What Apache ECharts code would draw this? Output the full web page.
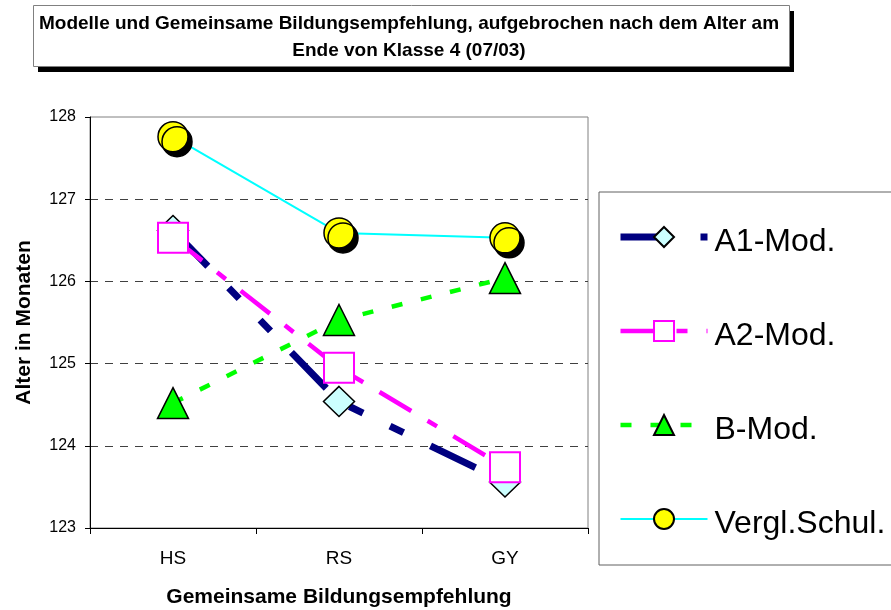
<!DOCTYPE html>
<html>
<head>
<meta charset="utf-8">
<script src="https://cdn.jsdelivr.net/npm/echarts@6/dist/echarts.min.js"></script>
<style>
  html, body { margin: 0; padding: 0; background: #fff; }
  #chart { width: 891px; height: 610px; }
</style>
</head>
<body>
<div id="chart"></div>
<script>
// Kategorien (Gemeinsame Bildungsempfehlung)
const categories = ['HS', 'RS', 'GY']
// Alter in Monaten je Modell
const a1Mod = [126.62, 124.54, 123.56]
const a2Mod = [126.53, 124.95, 123.74]
const bMod = [124.52, 125.53, 126.04]
const verglSchul = [127.76, 126.59, 126.53]
const seriesNames = ['A1-Mod.', 'A2-Mod.', 'B-Mod.', 'Vergl.Schul.']
// Linienbreiten fuer die Legende (wie in den Serien)
const legendWidths = [7, 4.5, 4.5, 2]

const font = 'Liberation Sans, Arial, sans-serif'
const chart = echarts.init(document.getElementById('chart'))

const option = {
  backgroundColor: '#fff',
  animation: false,
  // Titel-Kasten mit Schatten
  graphic: [
    {
      type: 'rect',
      shape: { x: 38, y: 11, width: 756, height: 61 },
      style: { fill: '#000' },
      z: 0
    },
    {
      type: 'rect',
      shape: { x: 33.5, y: 5.5, width: 756, height: 61 },
      style: { fill: '#fff', stroke: '#808080', lineWidth: 1 },
      z: 1
    }
  ],
  title: {
    text: 'Modelle und Gemeinsame Bildungsempfehlung, aufgebrochen nach dem Alter am\nEnde von Klasse 4 (07/03)',
    left: 409,
    textAlign: 'center',
    top: 10,
    padding: 0,
    z: 5,
    textStyle: {
      fontFamily: font,
      fontWeight: 'bold',
      fontSize: 19,
      lineHeight: 27,
      color: '#000'
    }
  },
  grid: {
    left: 90,
    right: 303,
    top: 117,
    bottom: 82,
    outerBoundsMode: 'none',
    show: true,
    borderColor: '#808080',
    borderWidth: 1
  },
  legend: {
    orient: 'vertical',
    left: 599,
    top: 192,
    padding: [24, 40, 25, 18],
    itemWidth: 87,
    itemHeight: 25,
    itemGap: 52,
    borderColor: '#606060',
    borderWidth: 1,
    backgroundColor: '#fff',
    data: seriesNames.map((name, i) => ({
      name: name,
      lineStyle: { width: legendWidths[i] }
    })),
    formatter: '{t|{name}}',
    textStyle: {
      fontFamily: font,
      fontSize: 32,
      color: '#000',
      rich: {
        t: {
          fontFamily: font,
          fontSize: 32,
          lineHeight: 32,
          color: '#000',
          padding: [10, 0, 0, 2]
        }
      }
    }
  },
  xAxis: {
    type: 'category',
    data: categories,
    boundaryGap: true,
    name: 'Gemeinsame Bildungsempfehlung',
    nameLocation: 'middle',
    nameGap: 59,
    nameTextStyle: {
      fontFamily: font,
      fontWeight: 'bold',
      fontSize: 21,
      color: '#000'
    },
    axisLine: { lineStyle: { color: '#000', width: 1 } },
    axisTick: { show: true, length: 6, inside: false, lineStyle: { color: '#000' } },
    axisLabel: {
      fontFamily: font,
      fontSize: 19,
      color: '#000',
      margin: 21
    },
    splitLine: { show: false }
  },
  yAxis: {
    type: 'value',
    min: 123,
    max: 128,
    interval: 1,
    name: 'Alter in Monaten',
    nameLocation: 'middle',
    nameGap: 55,
    nameTextStyle: {
      fontFamily: font,
      fontWeight: 'bold',
      fontSize: 21,
      color: '#000'
    },
    axisLine: { show: true, lineStyle: { color: '#000', width: 1 } },
    axisTick: { show: true, length: 5, inside: false, lineStyle: { color: '#000' } },
    axisLabel: {
      fontFamily: font,
      fontSize: 16,
      color: '#000',
      margin: 14
    },
    splitLine: {
      show: true,
      showMinLine: false,
      showMaxLine: false,
      lineStyle: { color: '#404040', width: 1, type: [8, 7] }
    }
  },
  series: [
    {
      name: seriesNames[0],
      type: 'line',
      data: a1Mod,
      symbol: 'diamond',
      symbolSize: [31, 30],
      lineStyle: { color: '#000080', width: 7, type: [50, 30, 15, 30, 15, 30], cap: 'butt' },
      itemStyle: { color: '#CCFFFF', borderColor: '#000', borderWidth: 1.5 },
      z: 2
    },
    {
      name: seriesNames[1],
      type: 'line',
      data: a2Mod,
      symbol: 'rect',
      symbolSize: 30,
      lineStyle: { color: '#FF00FF', width: 4.5, type: [37, 19, 11, 19], cap: 'butt' },
      itemStyle: { color: '#FFFFFF', borderColor: '#FF00FF', borderWidth: 2 },
      z: 3
    },
    {
      name: seriesNames[2],
      type: 'line',
      data: bMod,
      symbol: 'triangle',
      symbolSize: [31, 31],
      lineStyle: { color: '#00FF00', width: 4.5, type: [11, 19], cap: 'butt' },
      itemStyle: { color: '#00FF00', borderColor: '#000', borderWidth: 1.5 },
      z: 4
    },
    {
      name: seriesNames[3],
      type: 'line',
      data: verglSchul,
      symbol: 'circle',
      symbolSize: 30,
      lineStyle: { color: '#00FFFF', width: 2 },
      itemStyle: {
        color: '#FFFF00',
        borderColor: '#000',
        borderWidth: 1.5,
        shadowColor: '#000',
        shadowBlur: 0,
        shadowOffsetX: 4,
        shadowOffsetY: 5
      },
      z: 5
    }
  ]
}

chart.setOption(option)
</script>
</body>
</html>
